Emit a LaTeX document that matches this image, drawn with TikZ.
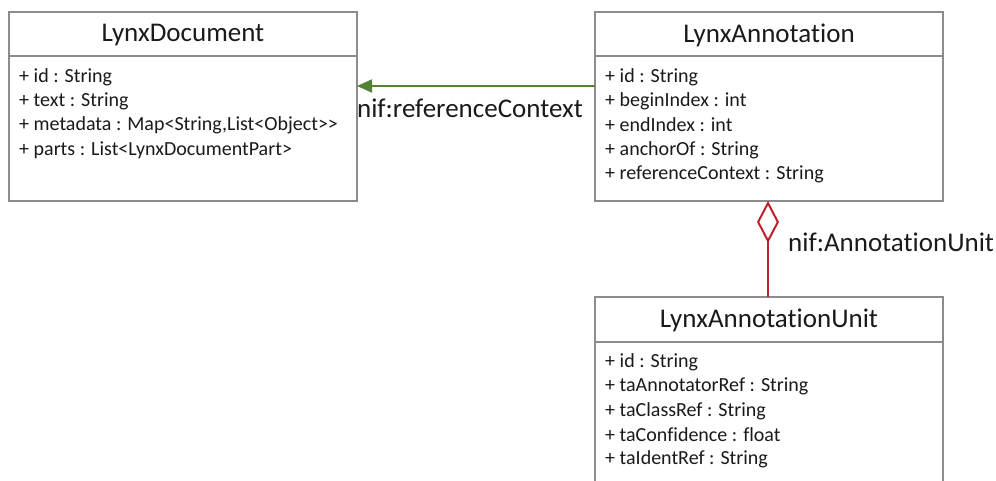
\documentclass[tikz,border=0pt]{standalone}
\usepackage{fontspec}
\setmainfont{Carlito}[Ligatures={NoCommon}]
\usetikzlibrary{arrows.meta}
\definecolor{boxgray}{HTML}{8C8C8C}
\definecolor{txt}{HTML}{1A1A1A}
\definecolor{lgreen}{HTML}{538135}
\definecolor{lred}{HTML}{C0202A}
\tikzset{
  classbox/.style={draw=boxgray, line width=2pt, fill=white},
  title/.style={font=\fontsize{27}{30}\selectfont, text=txt, anchor=center, inner sep=0pt},
  attr/.style={font=\fontsize{20}{24}\selectfont, text=txt, anchor=west, inner sep=0pt},
  lbl/.style={font=\fontsize{27}{30}\selectfont, text=txt, inner sep=0pt},
}
\begin{document}
\begin{tikzpicture}[x=1pt,y=1pt]
\useasboundingbox (0,0) rectangle (996,481);
\begin{scope}
\clip (0,0) rectangle (996,481);
% LynxDocument
\draw[classbox] (9,469) rectangle (357,280);
\draw[draw=boxgray, line width=2pt] (9,425) -- (357,425);
\node[title] (doct) at (183,446) {LynxDocument};
\node[attr] (d1) at (19,404) {+ id : String};
\node[attr] (d2) at (19,380) {+ text : String};
\node[attr] (d3) at (19,356) {+ metadata : Map<String,List<Object>{}>};
\node[attr] (d4) at (19,331) {+ parts : List<LynxDocumentPart>};
\coordinate (docE) at (357,395);
% LynxAnnotation
\draw[classbox] (595,469) rectangle (943,280);
\draw[draw=boxgray, line width=2pt] (595,425) -- (943,425);
\node[title] (annt) at (769,446) {LynxAnnotation};
\node[attr] (a1) at (605,404) {+ id : String};
\node[attr] (a2) at (605,380) {+ beginIndex : int};
\node[attr] (a3) at (605,356) {+ endIndex : int};
\node[attr] (a4) at (605,331) {+ anchorOf : String};
\node[attr] (a5) at (605,307) {+ referenceContext : String};
\coordinate (annW) at (595,395);
\coordinate (annS) at (768,280);
% LynxAnnotationUnit
\draw[classbox] (595,184) rectangle (943,-20);
\draw[draw=boxgray, line width=2pt] (595,139) -- (943,139);
\node[title] (unitt) at (769,161) {LynxAnnotationUnit};
\node[attr] (u1) at (605,119) {+ id : String};
\node[attr] (u2) at (605,95) {+ taAnnotatorRef : String};
\node[attr] (u3) at (605,70) {+ taClassRef : String};
\node[attr] (u4) at (605,46) {+ taConfidence : float};
\node[attr] (u5) at (605,22) {+ taIdentRef : String};
\coordinate (unitN) at (768,184);
% connectors
\draw[lgreen, line width=2pt, -{Triangle[length=15pt,width=13pt]}] (annW) -- (docE);
\node[lbl] (l1) at (470,373) {nif:referenceContext};
\draw[lred, line width=2pt, {Diamond[open, length=42pt, width=22pt, line width=2pt]}-] (annS) -- (unitN);
\node[lbl, anchor=west] (l2) at (788,239) {nif:AnnotationUnit};
\end{scope}
\end{tikzpicture}
\end{document}
